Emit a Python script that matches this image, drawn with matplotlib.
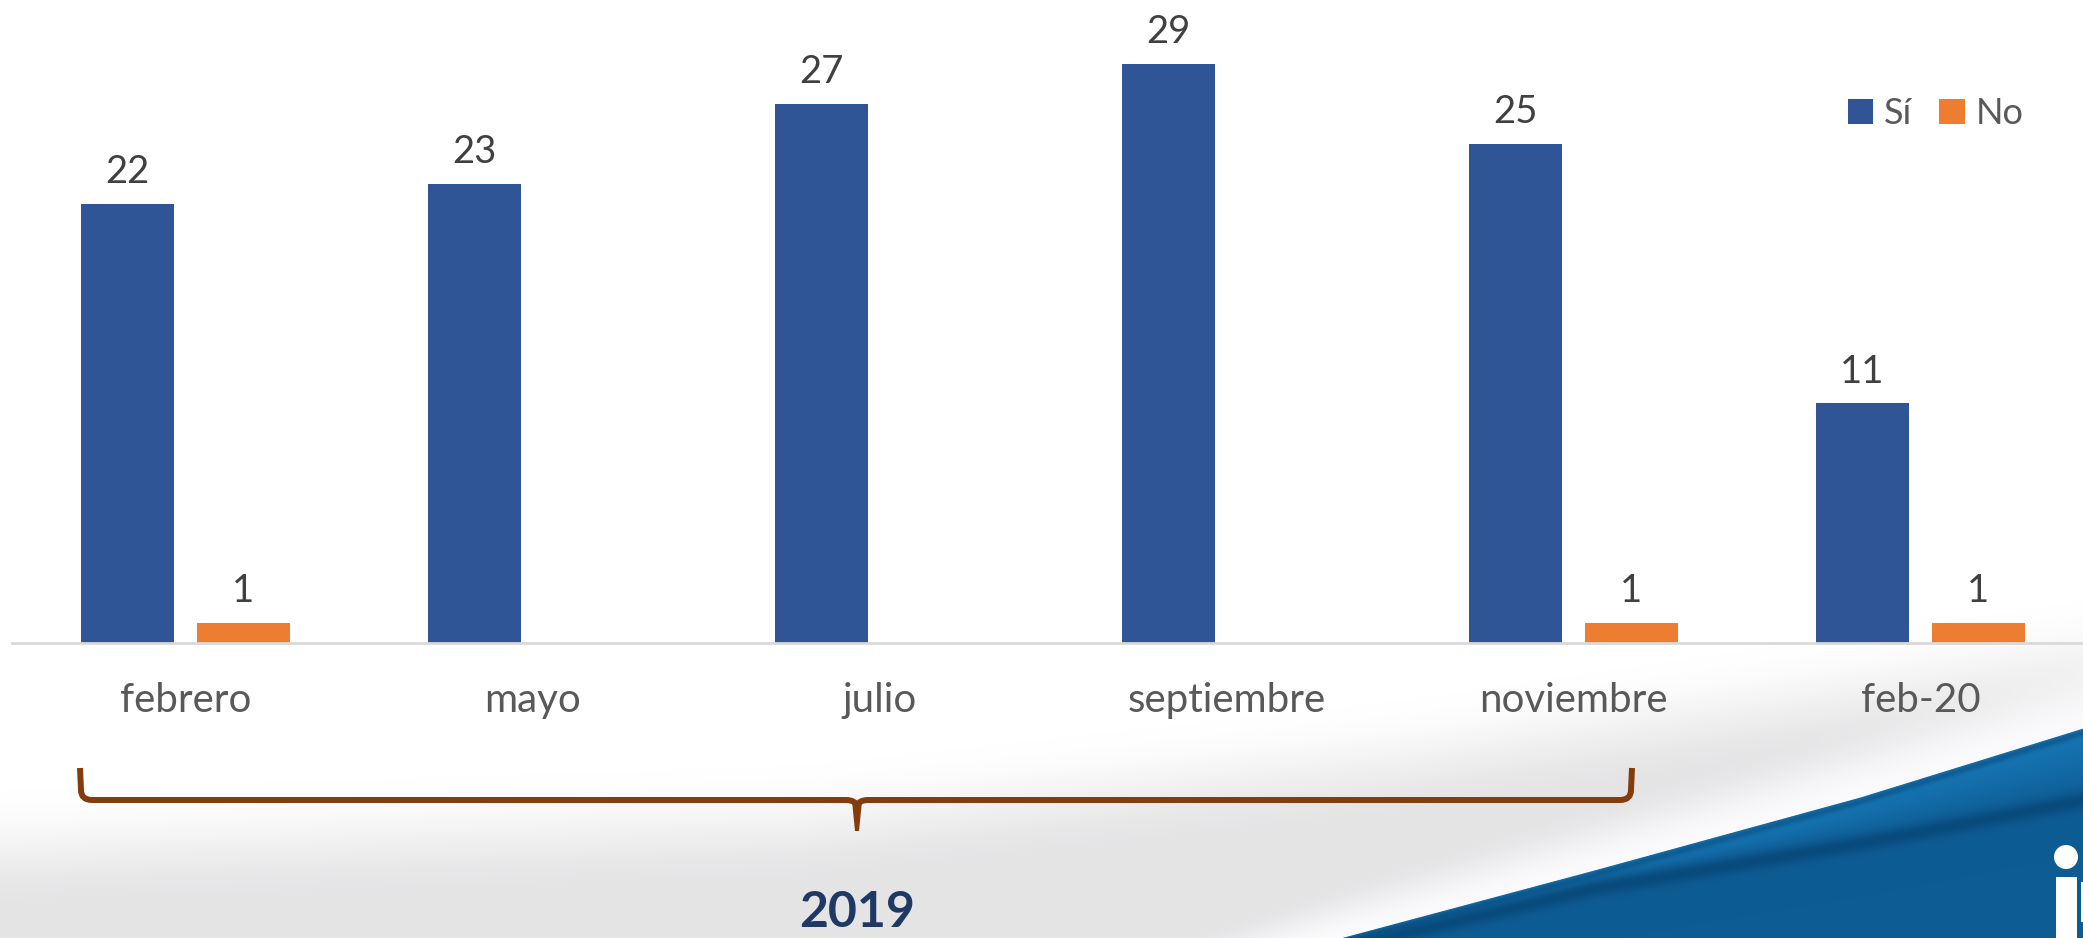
import numpy as np
import matplotlib
matplotlib.use("Agg")
import matplotlib.pyplot as plt
from matplotlib.path import Path
from matplotlib.patches import PathPatch, Polygon, Circle, Rectangle

# ---------------- data ----------------
categories = ["febrero", "mayo", "julio", "septiembre", "noviembre", "feb-20"]
# bar heights as drawn in the picture (the feb-20 bar is drawn at 12 but labelled 11)
si_values = [22, 23, 27, 29, 25, 12]
no_values = [1, 0, 0, 0, 1, 1]
si_labels = ["22", "23", "27", "29", "25", "11"]
no_labels = ["1", "", "", "", "1", "1"]
series_names = ["Sí", "No"]
year_label = "2019"

# ---------------- style ----------------
W, H = 2083, 938
C_SI = "#2F5597"
C_NO = "#ED7D31"
C_VAL = "#404040"
C_TICK = "#595959"
C_BRACE = "#843C0C"
C_YEAR = "#1F3864"
FONT = ["Lato", "DejaVu Sans"]
plt.rcParams["font.family"] = FONT

fig = plt.figure(figsize=(W / 100, H / 100), dpi=100)

# ---------------- background (decoration) ----------------
bg = fig.add_axes([0, 0, 1, 1], zorder=0)
bg.set_xlim(0, W)
bg.set_ylim(H, 0)
bg.axis("off")

xs = np.arange(W)[None, :].astype(float)
ys = np.arange(H)[:, None].astype(float)

def smooth(t):
    t = np.clip(t, 0, 1)
    return t * t * (3 - 2 * t)

gray_top = np.interp(xs, [0, 800, 1400, 2083], [790, 765, 700, 600])
gray_amt = smooth((ys - gray_top) / 120.0)
blue_top = np.interp(xs, [1200, 1340, 1594, 1860, 2083], [980, 938, 870, 797, 728])
d_above = blue_top - ys
hl_w = np.interp(xs, [1200, 2083], [50, 90])
highlight = smooth(1 - d_above / hl_w) * (d_above > 0)
val = 1.0 - 0.105 * gray_amt * (1 - 0.85 * highlight)
img = np.repeat(val[:, :, None], 3, axis=2)
img[:, :, 2] = np.clip(img[:, :, 2] + 0.006 * gray_amt, 0, 1)

# blue swoosh
streak = np.interp(xs, [1200, 1340, 1594, 1860, 2083], [990, 948, 888, 843, 800])
light = np.array([0x17, 0x78, 0xB6]) / 255.0
mid = np.array([0x0E, 0x5C, 0x94]) / 255.0
dark = np.array([0x07, 0x46, 0x76]) / 255.0
depth = ys - blue_top
band = np.clip((ys - blue_top) / np.maximum(streak - blue_top, 1), 0, 1)
col = light[None, None, :] * (1 - band[:, :, None]) + mid[None, None, :] * band[:, :, None]
ds = np.exp(-((ys - streak) / 9.0) ** 2)
col = col * (1 - 0.8 * ds[:, :, None]) + dark[None, None, :] * (0.8 * ds[:, :, None])
edge_dark = np.exp(-((depth - 4) / 4.0) ** 2) * 0.5
col = col * (1 - edge_dark[:, :, None]) + dark[None, None, :] * edge_dark[:, :, None]
alpha = np.clip(depth + 0.5, 0, 1)
img = img * (1 - alpha[:, :, None]) + col * alpha[:, :, None]
bg.imshow(np.clip(img, 0, 1), extent=(0, W, H, 0), aspect="auto", interpolation="bilinear")

# logo fragment
bg.add_patch(Circle((2066, 857), 12, color="white", lw=0))
bg.add_patch(Rectangle((2056, 877), 21, 70, color="white", lw=0))
bg.add_patch(Rectangle((2081, 882), 10, 40, color="white", lw=0))

# brace
verts = [(80, 768), (81, 790), (81, 800), (92, 800), (846, 800), (855, 800), (857, 806),
         (859, 800), (868, 800), (1620, 800), (1631, 800), (1631, 790), (1632, 768)]
codes = [Path.MOVETO, Path.LINETO, Path.CURVE3, Path.CURVE3, Path.LINETO, Path.CURVE3, Path.CURVE3,
         Path.CURVE3, Path.CURVE3, Path.LINETO, Path.CURVE3, Path.CURVE3, Path.LINETO]
bg.add_patch(PathPatch(Path(verts, codes), fill=False, ec=C_BRACE, lw=4.3,
                       capstyle="butt", joinstyle="round"))
bg.add_patch(Polygon([(852, 801), (862, 801), (859, 831), (855, 831)], closed=True,
                     fc=C_BRACE, ec="none"))

bg.text(857, 927, year_label, ha="center", va="baseline", fontsize=36,
        fontweight="bold", color=C_YEAR)

# ---------------- chart ----------------
ax = fig.add_axes([12 / W, (H - 643) / H, 2082 / W, 643 / H], zorder=1)
ax.patch.set_alpha(0)
x = np.arange(len(categories))
bw = 0.268
off = 0.167
b1 = ax.bar(x - off, si_values, bw, color=C_SI, label=series_names[0], zorder=2)
b2 = ax.bar(x + off, no_values, bw, color=C_NO, label=series_names[1], zorder=2)
for bars, vals, labs in ((b1, si_values, si_labels), (b2, no_values, no_labels)):
    for r, v, lab in zip(bars, vals, labs):
        if lab:
            ax.annotate(lab, (r.get_x() + r.get_width() / 2, v), xytext=(0, 15),
                        textcoords="offset points", ha="center", va="baseline",
                        fontsize=27.5, color=C_VAL)
ax.set_xlim(-0.5, len(categories) - 0.5)
ax.set_ylim(0, 32.2)
ax.set_xticks(x)
ax.set_xticklabels(categories, fontsize=29, color=C_TICK)
ax.tick_params(axis="x", length=0, pad=28)
ax.set_yticks([])
for s in ("top", "right", "left"):
    ax.spines[s].set_visible(False)
ax.spines["bottom"].set_color("#D9D9D9")
ax.spines["bottom"].set_linewidth(2)

leg = ax.legend(loc="center left", bbox_to_anchor=(1848 / W, (H - 114) / H),
                bbox_transform=fig.transFigure, ncol=2, frameon=False, fontsize=26,
                handlelength=0.7, handleheight=0.7, handletextpad=0.3,
                columnspacing=0.75, borderpad=0, borderaxespad=0)
for t in leg.get_texts():
    t.set_color(C_TICK)

fig.savefig("out.png", dpi=100)
